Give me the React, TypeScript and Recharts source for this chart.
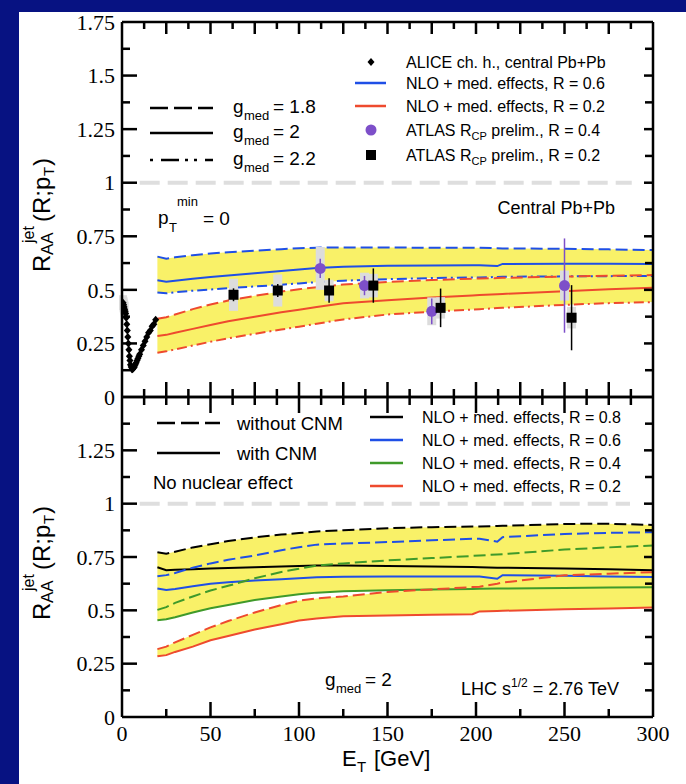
import React from "react";
import {
  ComposedChart,
  Line,
  Area,
  Scatter,
  XAxis,
  YAxis,
  ErrorBar,
  ReferenceLine,
} from "recharts";

const SANS = "'Liberation Sans', Arial, Helvetica, sans-serif";
const SERIF = "'Liberation Serif', 'Times New Roman', serif";

const NAVY = "#071282";
const BLUE = "#1f4fe6";
const RED = "#ee4a2e";
const GREEN = "#3f9a2a";
const PURPLE = "#7d4fc9";
const YELLOW = "#f9f168";
const GRAYBOX = "#dcdcdc";
const DASH = "12 5";
const DASHDOT = "10 4 2 4";

// E_T grid of the NLO curves (GeV)
const ET = [20, 25, 30, 40, 50, 60, 75, 90, 100, 110, 125, 150, 175, 198, 202, 212, 215, 250, 275, 300];

// top panel: R = 0.6 (blue) and R = 0.2 (red), g_med = 1.8 / 2 / 2.2
const top06g18 = [0.655, 0.645, 0.652, 0.662, 0.67, 0.676, 0.683, 0.69, 0.694, 0.697, 0.698, 0.698, 0.696, 0.697, 0.697, 0.694, 0.693, 0.692, 0.689, 0.686];
const top06g20 = [0.545, 0.538, 0.543, 0.552, 0.56, 0.567, 0.578, 0.588, 0.595, 0.602, 0.608, 0.612, 0.614, 0.615, 0.615, 0.611, 0.621, 0.622, 0.622, 0.621];
const top06g22 = [0.488, 0.484, 0.489, 0.496, 0.502, 0.508, 0.516, 0.524, 0.53, 0.536, 0.543, 0.55, 0.555, 0.558, 0.558, 0.56, 0.561, 0.563, 0.564, 0.565];
const top02g18 = [0.365, 0.372, 0.385, 0.41, 0.432, 0.45, 0.472, 0.492, 0.503, 0.512, 0.525, 0.537, 0.546, 0.552, 0.553, 0.555, 0.556, 0.562, 0.566, 0.569];
const top02g20 = [0.285, 0.29, 0.3, 0.318, 0.336, 0.353, 0.375, 0.395, 0.407, 0.42, 0.438, 0.452, 0.464, 0.474, 0.476, 0.48, 0.481, 0.494, 0.503, 0.51];
const top02g22 = [0.207, 0.213, 0.222, 0.24, 0.258, 0.274, 0.295, 0.315, 0.328, 0.342, 0.362, 0.385, 0.398, 0.408, 0.41, 0.415, 0.416, 0.43, 0.438, 0.443];

// bottom panel: without CNM (dashed) / with CNM (solid)
const bot08noCnm = [0.772, 0.765, 0.775, 0.795, 0.81, 0.825, 0.842, 0.855, 0.862, 0.87, 0.875, 0.885, 0.89, 0.893, 0.893, 0.895, 0.896, 0.905, 0.906, 0.9];
const bot08cnm = [0.702, 0.688, 0.69, 0.693, 0.696, 0.698, 0.702, 0.706, 0.708, 0.71, 0.71, 0.708, 0.705, 0.703, 0.702, 0.7, 0.7, 0.696, 0.692, 0.688];
const bot06noCnm = [0.66, 0.665, 0.675, 0.7, 0.72, 0.737, 0.757, 0.782, 0.796, 0.808, 0.813, 0.82, 0.828, 0.836, 0.836, 0.822, 0.843, 0.858, 0.863, 0.866];
const bot06cnm = [0.602, 0.595, 0.6, 0.613, 0.625, 0.632, 0.64, 0.646, 0.65, 0.655, 0.658, 0.659, 0.659, 0.659, 0.659, 0.648, 0.665, 0.662, 0.659, 0.656];
const bot04noCnm = [0.502, 0.515, 0.535, 0.565, 0.593, 0.615, 0.65, 0.68, 0.695, 0.71, 0.72, 0.734, 0.745, 0.755, 0.757, 0.762, 0.763, 0.785, 0.795, 0.804];
const bot04cnm = [0.453, 0.458, 0.468, 0.49, 0.51, 0.525, 0.548, 0.565, 0.575, 0.583, 0.59, 0.594, 0.598, 0.6, 0.601, 0.602, 0.602, 0.605, 0.607, 0.608];
const bot02noCnm = [0.318, 0.33, 0.35, 0.385, 0.42, 0.45, 0.49, 0.525, 0.545, 0.556, 0.565, 0.586, 0.598, 0.609, 0.611, 0.625, 0.63, 0.664, 0.672, 0.679];
const bot02cnm = [0.285, 0.29, 0.305, 0.33, 0.36, 0.38, 0.41, 0.435, 0.452, 0.462, 0.472, 0.476, 0.479, 0.482, 0.495, 0.497, 0.498, 0.505, 0.509, 0.513];

// ALICE charged hadrons
const aliceEt = [0.6, 0.9, 1.2, 1.5, 1.8, 2.1, 2.4, 2.7, 3.0, 3.3, 3.6, 3.9, 4.2, 4.5, 4.8, 5.2, 5.6, 6.0, 6.5, 7.0, 7.5, 8.0, 8.5, 9.0, 9.5, 10, 11, 12, 13, 14, 15, 16, 17, 18, 19];
const aliceRaa = [0.44, 0.43, 0.42, 0.41, 0.4, 0.39, 0.37, 0.34, 0.31, 0.28, 0.25, 0.22, 0.19, 0.17, 0.15, 0.14, 0.13, 0.13, 0.135, 0.14, 0.15, 0.16, 0.17, 0.18, 0.19, 0.2, 0.22, 0.24, 0.26, 0.28, 0.3, 0.31, 0.33, 0.34, 0.36];

// ATLAS R_CP, R = 0.2
const atlas02Et = [63, 88, 117, 142, 180, 254];
const atlas02Raa = [0.477, 0.497, 0.497, 0.52, 0.416, 0.37];
const atlas02Stat = [0.03, 0.03, 0.057, 0.08, 0.09, 0.152];
const atlas02Sys = [0.075, 0.075, 0.05, 0.055, 0.05, 0.05];

// ATLAS R_CP, R = 0.4
const atlas04Et = [112, 137, 175, 250];
const atlas04Raa = [0.6, 0.52, 0.4, 0.52];
const atlas04Stat = [0.045, 0.045, 0.06, 0.22];
const atlas04Sys = [0.1, 0.06, 0.065, 0.07];

const topRows = ET.map((x, i) => ({
  x,
  b18: top06g18[i],
  b20: top06g20[i],
  b22: top06g22[i],
  r18: top02g18[i],
  r20: top02g20[i],
  r22: top02g22[i],
  blueBand: [top06g22[i], top06g18[i]],
  redBand: [top02g22[i], top02g18[i]],
}));

const botRows = ET.map((x, i) => ({
  x,
  k0: bot08noCnm[i],
  k1: bot08cnm[i],
  b0: bot06noCnm[i],
  b1: bot06cnm[i],
  g0: bot04noCnm[i],
  g1: bot04cnm[i],
  r0: bot02noCnm[i],
  r1: bot02cnm[i],
  upperBand: [bot04cnm[i], bot08noCnm[i]],
  redBand: [bot02cnm[i], bot02noCnm[i]],
}));

const aliceRows = aliceEt.map((x, i) => ({
  x,
  y: aliceRaa[i],
  sys: i < 4 ? 0.035 : 0,
}));
const atlas02Rows = atlas02Et.map((x, i) => ({
  x,
  y: atlas02Raa[i],
  stat: atlas02Stat[i],
  sys: atlas02Sys[i],
}));
const atlas04Rows = atlas04Et.map((x, i) => ({
  x,
  y: atlas04Raa[i],
  stat: atlas04Stat[i],
  sys: atlas04Sys[i],
}));

const range = (a: number, b: number, s: number) => {
  const out: number[] = [];
  for (let v = a; v <= b + 1e-9; v += s) out.push(Math.round(v * 1000) / 1000);
  return out;
};
const xTicks125 = range(0, 300, 12.5);
const xTicks25 = range(0, 300, 25);
const yTicksTop = range(0, 1.75, 0.125);
const yTicksBot = range(0, 1.5, 0.125);

const isMul = (v: number, s: number) => Math.abs(v / s - Math.round(v / s)) < 1e-6;

// ticks point into the frame; labels only where asked
const xTick = (dir: 1 | -1, major: number, long: number, short: number, labels: boolean) =>
  // eslint-disable-next-line @typescript-eslint/no-explicit-any
  (props: any) => {
    const { x, y, payload } = props;
    const v = payload.value;
    const big = isMul(v, major);
    const edge = v <= 0 || v >= 300;
    return (
      <g>
        {!edge && (
          <line x1={x} x2={x} y1={y} y2={y + dir * (big ? long : short)} stroke="#000" strokeWidth={2.5} />
        )}
        {labels && big && (
          <text x={x} y={y + 16} dy="0.35em" textAnchor="middle" fontFamily={SERIF} fontSize={22} fill="#000">
            {v}
          </text>
        )}
      </g>
    );
  };

const yTick = (dir: 1 | -1, long: number, short: number, maxLabel: number, top: number) =>
  // eslint-disable-next-line @typescript-eslint/no-explicit-any
  (props: any) => {
    const { x, y, payload } = props;
    const v = payload.value;
    const big = isMul(v, 0.25);
    const edge = v <= 0 || v >= top;
    return (
      <g>
        {!edge && (
          <line x1={x} x2={x + dir * (big ? long : short)} y1={y} y2={y} stroke="#000" strokeWidth={2.5} />
        )}
        {maxLabel > 0 && big && v <= maxLabel && (
          <text x={x - 7} y={y} dy="0.35em" textAnchor="end" fontFamily={SERIF} fontSize={22} fill="#000">
            {v}
          </text>
        )}
      </g>
    );
  };

const frame = { stroke: "#000", strokeWidth: 2.5 };

// eslint-disable-next-line @typescript-eslint/no-explicit-any
const Diamond = (p: any) => (
  <path d={`M${p.cx},${p.cy - 4} L${p.cx + 3.5},${p.cy} L${p.cx},${p.cy + 4} L${p.cx - 3.5},${p.cy} Z`} fill="#000" />
);
// eslint-disable-next-line @typescript-eslint/no-explicit-any
const Square = (p: any) => <rect x={p.cx - 5} y={p.cy - 5} width={10} height={10} fill="#000" />;
// eslint-disable-next-line @typescript-eslint/no-explicit-any
const Dot = (p: any) => <circle cx={p.cx} cy={p.cy} r={5.5} fill={PURPLE} />;

function YTitle({ x, y }: { x: number; y: number }) {
  return (
    <g transform={`translate(${x},${y}) rotate(-90)`} fontFamily={SANS} fill="#000">
      <text x={0} y={0} fontSize={24}>R</text>
      <text x={17} y={3} fontSize={17}>AA</text>
      <text x={29} y={-16} fontSize={16}>jet</text>
      <text x={50} y={0} fontSize={24}>(R;p</text>
      <text x={96} y={4} fontSize={15}>T</text>
      <text x={106} y={0} fontSize={24}>)</text>
    </g>
  );
}

function GMed({ x, y, value }: { x: number; y: number; value: string }) {
  return (
    <g fontFamily={SANS} fill="#000">
      <text x={x} y={y} fontSize={19}>g</text>
      <text x={x + 11} y={y + 7} fontSize={13}>med</text>
      <text x={x + 40} y={y} fontSize={19}>{"= " + value}</text>
    </g>
  );
}

function LegendText({ x, y, main, sub, rest }: { x: number; y: number; main: string; sub?: string; rest?: string }) {
  return (
    <text x={x} y={y} fontFamily={SANS} fontSize={16} fill="#000">
      {main}
      {sub && (
        <tspan dy={4} fontSize={11}>
          {sub}
        </tspan>
      )}
      {rest && (
        <tspan dy={sub ? -4 : 0} fontSize={16}>
          {rest}
        </tspan>
      )}
    </text>
  );
}

function Overlay() {
  return (
    <svg width={686} height={784} style={{ position: "absolute", left: 0, top: 0, pointerEvents: "none" }}>
      <YTitle x={50} y={272} />
      <YTitle x={50} y={620} />

      {/* x axis title */}
      <g fontFamily={SANS} fill="#000">
        <text x={342} y={766} fontSize={22}>E</text>
        <text x={357} y={772} fontSize={15}>T</text>
        <text x={374} y={766} fontSize={22}>[GeV]</text>
      </g>

      {/* top panel, g_med legend */}
      <line x1={150} x2={213} y1={108} y2={108} stroke="#000" strokeWidth={2.5} strokeDasharray="18 6" />
      <line x1={150} x2={213} y1={133} y2={133} stroke="#000" strokeWidth={2.5} />
      <line x1={150} x2={213} y1={160} y2={160} stroke="#000" strokeWidth={2.5} strokeDasharray="3 8 18 6 3 6" />
      <GMed x={233} y={113} value="1.8" />
      <GMed x={233} y={138} value="2" />
      <GMed x={233} y={165} value="2.2" />

      {/* top panel, data legend */}
      <path d="M371,58 L374.5,62 L371,66 L367.5,62 Z" fill="#000" />
      <LegendText x={406} y={68} main="ALICE ch. h., central Pb+Pb" />
      <line x1={355} x2={386} y1={83} y2={83} stroke={BLUE} strokeWidth={2.5} />
      <LegendText x={406} y={89} main="NLO + med. effects, R = 0.6" />
      <line x1={355} x2={386} y1={106} y2={106} stroke={RED} strokeWidth={2.5} />
      <LegendText x={406} y={112} main="NLO + med. effects, R = 0.2" />
      <circle cx={371} cy={130} r={5.5} fill={PURPLE} />
      <LegendText x={406} y={136} main="ATLAS R" sub="CP" rest=" prelim., R = 0.4" />
      <rect x={366} y={150} width={10} height={10} fill="#000" />
      <LegendText x={406} y={161} main="ATLAS R" sub="CP" rest=" prelim., R = 0.2" />

      <g fontFamily={SANS} fill="#000">
        <text x={158} y={224} fontSize={19}>p</text>
        <text x={169} y={232} fontSize={13}>T</text>
        <text x={177} y={206} fontSize={13}>min</text>
        <text x={203} y={225} fontSize={19}>= 0</text>
        <text x={615} y={214} fontSize={18} textAnchor="end">Central Pb+Pb</text>
      </g>

      {/* bottom panel legends */}
      <line x1={157} x2={220} y1={423} y2={423} stroke="#000" strokeWidth={2.5} strokeDasharray="18 6" />
      <line x1={157} x2={220} y1={453} y2={453} stroke="#000" strokeWidth={2.5} />
      <g fontFamily={SANS} fill="#000" fontSize={18.5}>
        <text x={237} y={430}>without CNM</text>
        <text x={237} y={460}>with CNM</text>
        <text x={153} y={489}>No nuclear effect</text>
      </g>
      <line x1={370} x2={403} y1={417} y2={417} stroke="#000" strokeWidth={2.5} />
      <LegendText x={422} y={423} main="NLO + med. effects, R = 0.8" />
      <line x1={370} x2={403} y1={440} y2={440} stroke={BLUE} strokeWidth={2.5} />
      <LegendText x={422} y={446} main="NLO + med. effects, R = 0.6" />
      <line x1={370} x2={403} y1={463} y2={463} stroke={GREEN} strokeWidth={2.5} />
      <LegendText x={422} y={469} main="NLO + med. effects, R = 0.4" />
      <line x1={370} x2={403} y1={486} y2={486} stroke={RED} strokeWidth={2.5} />
      <LegendText x={422} y={492} main="NLO + med. effects, R = 0.2" />

      <GMed x={325} y={686} value="2" />
      <text x={461} y={695} fontFamily={SANS} fontSize={18} fill="#000">
        LHC s
        <tspan dy={-8} fontSize={12}>1/2</tspan>
        <tspan dy={8} fontSize={18}> = 2.76 TeV</tspan>
      </text>
    </svg>
  );
}

export default function App() {
  return (
    <div style={{ position: "absolute", left: 0, top: 0, width: 686, height: 784, background: NAVY, overflow: "hidden" }}>
      <div style={{ position: "absolute", left: 19, top: 12, width: 667, height: 772, background: "#fff" }} />

      {/* upper panel */}
      <div style={{ position: "absolute", left: 0, top: 0 }}>
        <ComposedChart width={686} height={420} margin={{ top: 21, right: 32, bottom: 22, left: 62 }}>
          <XAxis dataKey="x" type="number" domain={[0, 300]} allowDataOverflow ticks={xTicks125} interval={0}
            tick={xTick(-1, 25, 15, 8, false)} tickLine={false} tickSize={0} tickMargin={0} height={1} axisLine={frame} />
          <XAxis xAxisId="t" orientation="top" dataKey="x" type="number" domain={[0, 300]} allowDataOverflow ticks={xTicks125} interval={0}
            tick={xTick(1, 25, 12, 7, false)} tickLine={false} tickSize={0} tickMargin={0} height={1} axisLine={frame} />
          <YAxis type="number" domain={[0, 1.75]} allowDataOverflow ticks={yTicksTop} interval={0}
            tick={yTick(1, 15, 8, 1.75, 1.75)} tickLine={false} tickSize={0} tickMargin={0} width={60} axisLine={frame} />
          <YAxis yAxisId="r" orientation="right" type="number" domain={[0, 1.75]} allowDataOverflow ticks={yTicksTop} interval={0}
            tick={yTick(-1, 9, 8, 0, 1.75)} tickLine={false} tickSize={0} tickMargin={0} width={1} axisLine={frame} />

          <Area data={topRows} dataKey="blueBand" type="linear" stroke="none" fill={YELLOW} fillOpacity={1} isAnimationActive={false} />
          <Area data={topRows} dataKey="redBand" type="linear" stroke="none" fill={YELLOW} fillOpacity={1} isAnimationActive={false} />

          <Line data={topRows} dataKey="b18" type="linear" stroke={BLUE} strokeWidth={2} strokeDasharray={DASH} dot={false} isAnimationActive={false} />
          <Line data={topRows} dataKey="b20" type="linear" stroke={BLUE} strokeWidth={2} dot={false} isAnimationActive={false} />
          <Line data={topRows} dataKey="b22" type="linear" stroke={BLUE} strokeWidth={2} strokeDasharray={DASHDOT} dot={false} isAnimationActive={false} />
          <Line data={topRows} dataKey="r18" type="linear" stroke={RED} strokeWidth={2} strokeDasharray={DASH} dot={false} isAnimationActive={false} />
          <Line data={topRows} dataKey="r20" type="linear" stroke={RED} strokeWidth={2} dot={false} isAnimationActive={false} />
          <Line data={topRows} dataKey="r22" type="linear" stroke={RED} strokeWidth={2} strokeDasharray={DASHDOT} dot={false} isAnimationActive={false} />

          <ReferenceLine segment={[{ x: 10, y: 1 }, { x: 288, y: 1 }]} stroke="#dedede" strokeWidth={4} strokeDasharray="20 8" />

          <Scatter data={aliceRows} dataKey="y" shape={Diamond} isAnimationActive={false}>
            <ErrorBar dataKey="sys" direction="y" width={0} stroke={GRAYBOX} strokeWidth={8} />
          </Scatter>
          <Scatter data={atlas04Rows} dataKey="y" shape={Dot} isAnimationActive={false}>
            <ErrorBar dataKey="sys" direction="y" width={0} stroke={GRAYBOX} strokeWidth={9} />
            <ErrorBar dataKey="stat" direction="y" width={0} stroke={PURPLE} strokeWidth={1.5} />
          </Scatter>
          <Scatter data={atlas02Rows} dataKey="y" shape={Square} isAnimationActive={false}>
            <ErrorBar dataKey="sys" direction="y" width={0} stroke={GRAYBOX} strokeWidth={9} />
            <ErrorBar dataKey="stat" direction="y" width={0} stroke="#000" strokeWidth={1.5} />
          </Scatter>
        </ComposedChart>
      </div>

      {/* lower panel */}
      <div style={{ position: "absolute", left: 0, top: 0 }}>
        <ComposedChart width={686} height={784} margin={{ top: 396, right: 32, bottom: 66, left: 62 }}>
          <XAxis dataKey="x" type="number" domain={[0, 300]} allowDataOverflow ticks={xTicks25} interval={0}
            tick={xTick(-1, 50, 15, 8, true)} tickLine={false} tickSize={0} tickMargin={0} height={1} axisLine={frame} />
          <XAxis xAxisId="t" orientation="top" dataKey="x" type="number" domain={[0, 300]} allowDataOverflow ticks={xTicks125} interval={0}
            tick={xTick(1, 50, 16, 8, false)} tickLine={false} tickSize={0} tickMargin={0} height={1} axisLine={frame} />
          <YAxis type="number" domain={[0, 1.5]} allowDataOverflow ticks={yTicksBot} interval={0}
            tick={yTick(1, 15, 8, 1.25, 1.5)} tickLine={false} tickSize={0} tickMargin={0} width={60} axisLine={frame} />
          <YAxis yAxisId="r" orientation="right" type="number" domain={[0, 1.5]} allowDataOverflow ticks={yTicksBot} interval={0}
            tick={yTick(-1, 9, 8, 0, 1.5)} tickLine={false} tickSize={0} tickMargin={0} width={1} axisLine={frame} />

          <Area data={botRows} dataKey="upperBand" type="linear" stroke="none" fill={YELLOW} fillOpacity={1} isAnimationActive={false} />
          <Area data={botRows} dataKey="redBand" type="linear" stroke="none" fill={YELLOW} fillOpacity={1} isAnimationActive={false} />

          <Line data={botRows} dataKey="k0" type="linear" stroke="#000" strokeWidth={2} strokeDasharray={DASH} dot={false} isAnimationActive={false} />
          <Line data={botRows} dataKey="k1" type="linear" stroke="#000" strokeWidth={2} dot={false} isAnimationActive={false} />
          <Line data={botRows} dataKey="b0" type="linear" stroke={BLUE} strokeWidth={2} strokeDasharray={DASH} dot={false} isAnimationActive={false} />
          <Line data={botRows} dataKey="b1" type="linear" stroke={BLUE} strokeWidth={2} dot={false} isAnimationActive={false} />
          <Line data={botRows} dataKey="g0" type="linear" stroke={GREEN} strokeWidth={2} strokeDasharray={DASH} dot={false} isAnimationActive={false} />
          <Line data={botRows} dataKey="g1" type="linear" stroke={GREEN} strokeWidth={2} dot={false} isAnimationActive={false} />
          <Line data={botRows} dataKey="r0" type="linear" stroke={RED} strokeWidth={2} strokeDasharray={DASH} dot={false} isAnimationActive={false} />
          <Line data={botRows} dataKey="r1" type="linear" stroke={RED} strokeWidth={2} dot={false} isAnimationActive={false} />

          <ReferenceLine segment={[{ x: 10, y: 1 }, { x: 287, y: 1 }]} stroke="#dedede" strokeWidth={4} strokeDasharray="20 8" />
        </ComposedChart>
      </div>

      <Overlay />
    </div>
  );
}
